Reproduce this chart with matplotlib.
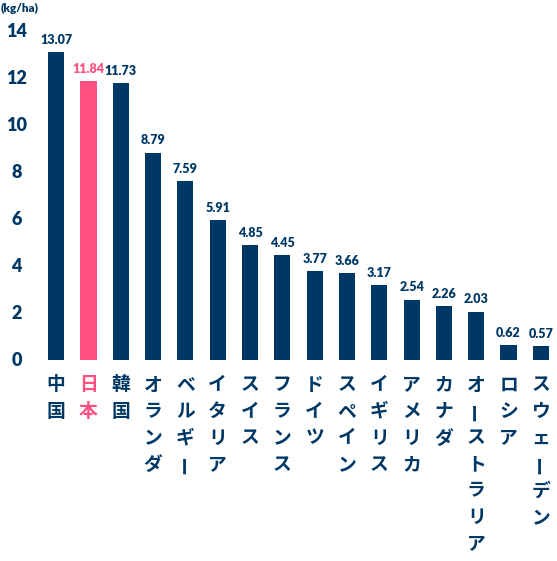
import matplotlib
matplotlib.use("Agg")
import matplotlib.pyplot as plt
from matplotlib.transforms import blended_transform_factory

countries = ["中国", "日本", "韓国", "オランダ", "ベルギー", "イタリア", "スイス", "フランス",
             "ドイツ", "スペイン", "イギリス", "アメリカ", "カナダ", "オーストラリア", "ロシア", "スウェーデン"]
values = [13.07, 11.84, 11.73, 8.79, 7.59, 5.91, 4.85, 4.45, 3.77, 3.66, 3.17, 2.54, 2.26, 2.03, 0.62, 0.57]
highlight = "日本"
yticks = [0, 2, 4, 6, 8, 10, 12, 14]
unit_label = "(kg/ha)"

NAVY = "#003865"
PINK = "#FF4F80"
NUMFONT = ["Lato", "DejaVu Sans"]
JPFONT = ["Noto Sans CJK JP", "DejaVu Sans"]

W, H = 557, 561
fig = plt.figure(figsize=(W / 100, H / 100), dpi=100)
left, right = 40, 557
bottom, top = 359.5, 30
ax = fig.add_axes([left / W, 1 - bottom / H, (right - left) / W, (bottom - top) / H])

x = list(range(len(countries)))
colors = [PINK if c == highlight else NAVY for c in countries]
ax.bar(x, values, width=0.5, color=colors)
ax.set_xlim(-0.5, len(countries) - 0.5)
ax.set_ylim(0, 14)
for s in ax.spines.values():
    s.set_visible(False)
ax.set_xticks([])
ax.set_yticks(yticks)
ax.set_yticklabels([str(t) for t in yticks], fontfamily=NUMFONT, fontweight="heavy",
                   fontsize=13, color=NAVY)
ax.tick_params(axis="y", length=0, pad=17)
for lbl in ax.get_yticklabels():
    lbl.set_horizontalalignment("center")

for xi, v, c in zip(x, values, colors):
    ax.annotate(f"{v:.2f}", (xi, v), xytext=(0, 4.5), textcoords="offset points",
                ha="center", va="bottom", fontsize=9, fontweight="heavy",
                family=NUMFONT, color=c)

trans = blended_transform_factory(ax.transData, fig.transFigure)
step = 26.5
for xi, name, c in zip(x, countries, colors):
    for k, ch in enumerate(name):
        ypix = 385 + k * step
        rot = 90 if ch == "ー" else 0
        ax.text(xi, 1 - ypix / H, ch, transform=trans, ha="center", va="center",
                fontsize=13.5, fontweight="bold", family=JPFONT, color=c, rotation=rot,
                clip_on=False)

fig.text(1 / W, 1 - 8 / H, unit_label, ha="left", va="center", fontsize=8.5,
         fontweight="heavy", family=NUMFONT, color=NAVY)

fig.savefig("out.png", dpi=100)
